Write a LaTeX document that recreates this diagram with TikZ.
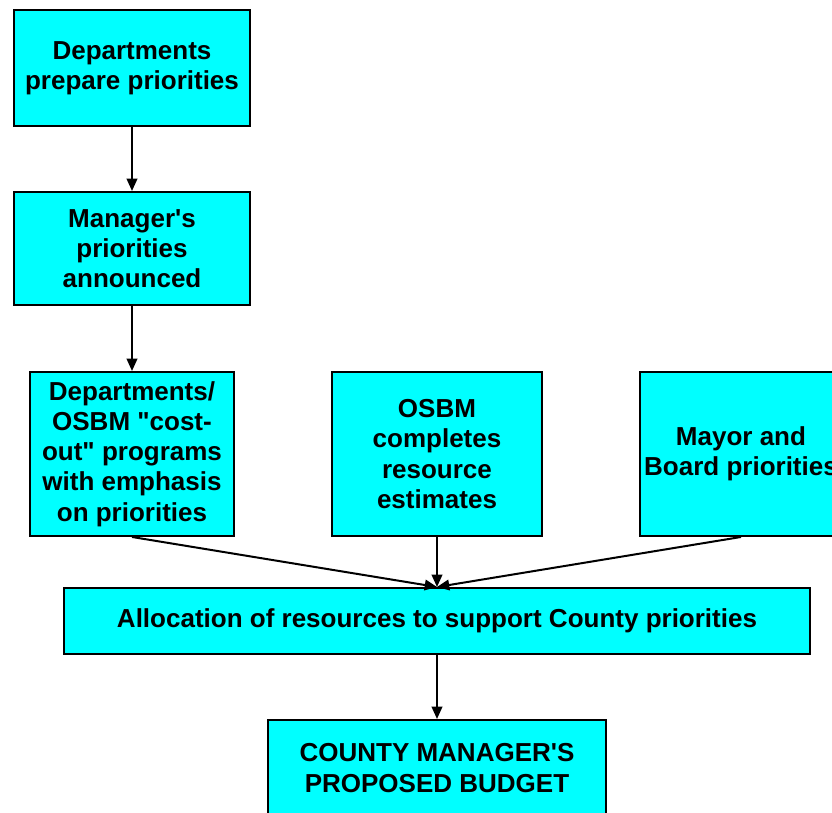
\documentclass[tikz,border=0pt]{standalone}
\usepackage{fontspec}
\setmainfont{Liberation Sans}
\usetikzlibrary{arrows.meta}
\definecolor{boxcyan}{HTML}{00FFFF}
\tikzset{
	stage/.style={draw=black, line width=0.04cm, fill=boxcyan, align=center, inner sep=0pt,
		font=\fontsize{14.8}{17.2}\selectfont\bfseries},
	flow/.style={line width=0.04cm, -{Triangle[length=7pt,width=6pt]}}
}

\begin{document}
\begin{tikzpicture}[x=0.02cm, y=-0.02cm]
			%%%%% START %%%%%
			\useasboundingbox (0, 0) rectangle (832, 813);
			
			\node[stage, minimum width=4.72cm, minimum height=2.32cm] (dept) at (132, 68) {Departments\\prepare priorities};
			\node[stage, minimum width=4.72cm, minimum height=2.26cm] (mgr) at (132, 248.5) {Manager\textquotesingle s\\priorities\\announced};
			
			\node[stage, minimum width=4.08cm, minimum height=3.28cm] (costout) at (132, 454) {Departments/\\OSBM \textquotedbl cost-\\out\textquotedbl{} programs\\with emphasis\\on priorities};
			\node[stage, minimum width=4.2cm, minimum height=3.28cm] (osbm) at (437, 454) {OSBM\\completes\\resource\\estimates};
			\node[stage, minimum width=4.04cm, minimum height=3.28cm] (mayor) at (741, 454) {Mayor and\\Board priorities};
			
			\node[stage, minimum width=14.92cm, minimum height=1.32cm] (alloc) at (437, 621) {Allocation of resources to support County priorities};
			\node[stage, minimum width=6.76cm, minimum height=1.92cm] (budget) at (437, 768) {COUNTY MANAGER\textquotesingle S\\PROPOSED BUDGET};
			
			\draw[flow] (dept) -- (mgr);
			\draw[flow] (mgr) -- (costout);
			\draw[flow] (costout.south) -- (alloc.north);
			\draw[flow] (osbm) -- (alloc);
			\draw[flow] (mayor.south) -- (alloc.north);
			\draw[flow] (alloc) -- (budget);
			
			%%%%% END %%%%%
\end{tikzpicture}
\end{document}
